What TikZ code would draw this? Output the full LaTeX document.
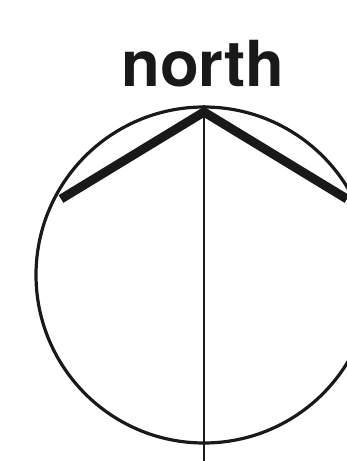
\documentclass[tikz,border=0pt]{standalone}
\usepackage{fontspec}
\setmainfont{TeX Gyre Heros}
\begin{document}
\begin{tikzpicture}[x=1pt,y=1pt,
  dialring/.style={circle, draw=black!90, line width=3.2pt, minimum size=336pt, inner sep=0pt},
  chevron/.style={draw=black!90, line width=9pt, line cap=butt, line join=miter},
  axisline/.style={draw=black!90, line width=1.5pt},
  label/.style={font=\bfseries\fontsize{63.5}{63.5}\selectfont, text=black!90, anchor=base, inner sep=0pt}]
\useasboundingbox (0,0) rectangle (347,461);
\clip (0,0) rectangle (347,461);
\node[label] (title) at (203,374) {north};
\node[dialring] (dial) at (204,186) {};
\coordinate (apex) at (204,349);
\coordinate (lend) at (61,262);
\coordinate (rend) at (347,262);
\coordinate (foot) at (204,-2);
\draw[axisline] (dial.north) -- (foot);
\draw[chevron] (lend) -- (apex) -- (rend);
\end{tikzpicture}
\end{document}
